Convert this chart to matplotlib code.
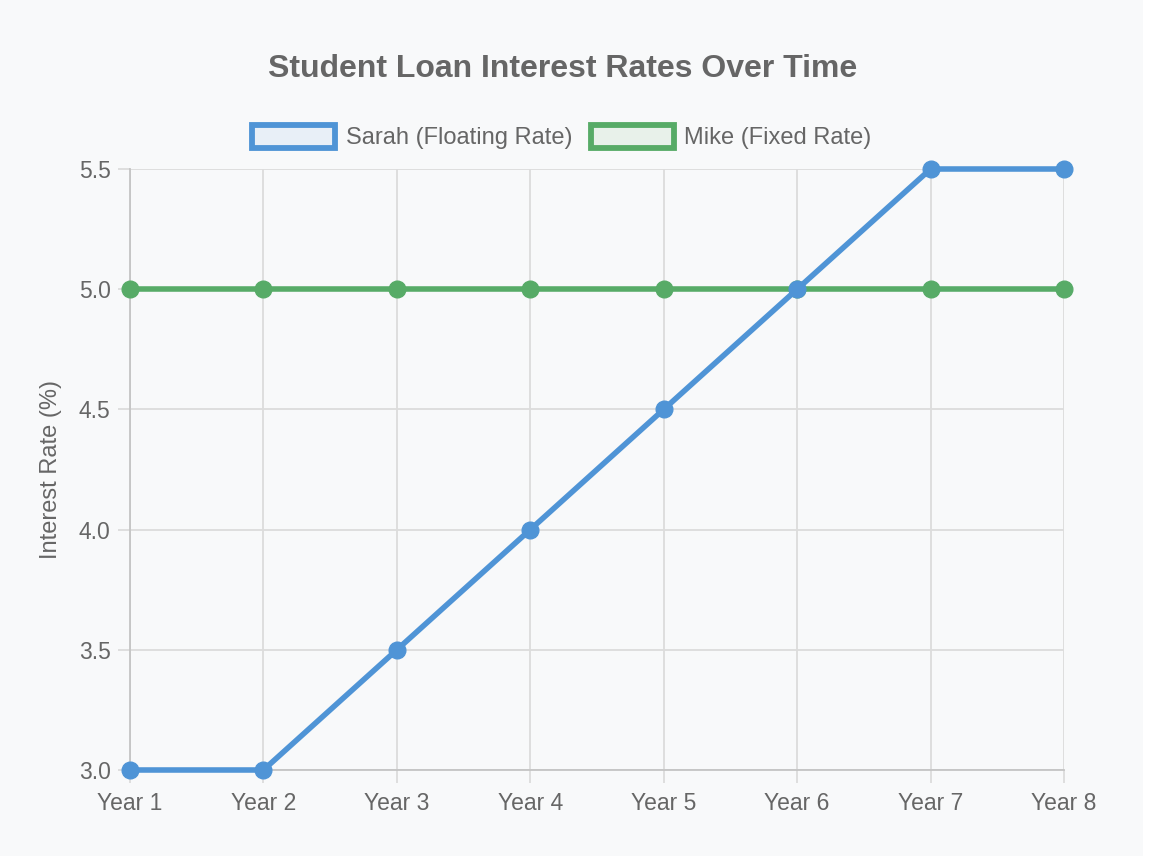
import matplotlib.pyplot as plt
from matplotlib.patches import Patch, Rectangle

years = ['Year 1', 'Year 2', 'Year 3', 'Year 4', 'Year 5', 'Year 6', 'Year 7', 'Year 8']
sarah = [3.0, 3.0, 3.5, 4.0, 4.5, 5.0, 5.5, 5.5]
mike = [5.0, 5.0, 5.0, 5.0, 5.0, 5.0, 5.0, 5.0]
y_ticks = [3.0, 3.5, 4.0, 4.5, 5.0, 5.5]

blue = '#4f94d6'
green = '#57ab67'
txt = '#666666'
grid_c = '#dcdcdc'

plt.rcParams['font.family'] = ['Liberation Sans', 'DejaVu Sans']

fig = plt.figure(figsize=(11.6, 8.56), dpi=100)
fig.patch.set_facecolor('#f8f9fa')
# white strip on the right edge of the screenshot
fig.patches.append(Rectangle((1143 / 1160, 0), 1, 1, transform=fig.transFigure,
                             facecolor='white', edgecolor='none', zorder=0))

ax = fig.add_axes([130 / 1160, 1 - 770 / 856, (1064 - 130) / 1160, (770 - 169) / 856])
ax.set_facecolor('#f8f9fa')

x = list(range(len(years)))
ax.plot(x, sarah, color=blue, lw=4, marker='o', ms=12, clip_on=False, zorder=4)
ax.plot(x, mike, color=green, lw=4, marker='o', ms=12, clip_on=False, zorder=3)

ax.set_xlim(0, len(years) - 1)
ax.set_ylim(3.0, 5.5)
ax.set_xticks(x)
ax.set_xticklabels(years)
ax.set_yticks(y_ticks)
ax.set_yticklabels([f'{v:.1f}' for v in y_ticks])
ax.grid(True, color=grid_c, lw=1.3)
ax.set_axisbelow(True)

for s in ['top', 'right']:
    ax.spines[s].set_visible(False)
for s in ['left', 'bottom']:
    ax.spines[s].set_color('#c4c4c4')
    ax.spines[s].set_linewidth(1.3)

ax.tick_params(axis='both', colors=grid_c, labelcolor=txt, labelsize=16.5,
               length=9, width=1.3)
ax.tick_params(axis='x', pad=7)
ax.tick_params(axis='y', pad=5)

ax.set_ylabel('Interest Rate (%)', color=txt, fontsize=17, labelpad=12)

fig.text(563 / 1160, 1 - 69 / 856, 'Student Loan Interest Rates Over Time',
         ha='center', va='center', fontsize=23, fontweight='bold', color=txt)

handles = [Patch(facecolor='#e8eff7', edgecolor=blue, lw=4.2),
           Patch(facecolor='#e8f1ea', edgecolor=green, lw=4.2)]
fig.legend(handles, ['Sarah (Floating Rate)', 'Mike (Fixed Rate)'],
           loc='center', bbox_to_anchor=(562 / 1160, 1 - 137 / 856), ncol=2,
           frameon=False, fontsize=17, labelcolor=txt,
           handlelength=3.5, handleheight=1.15, handletextpad=0.45, columnspacing=0.8)

fig.savefig('out.png', dpi=100, facecolor=fig.get_facecolor())
